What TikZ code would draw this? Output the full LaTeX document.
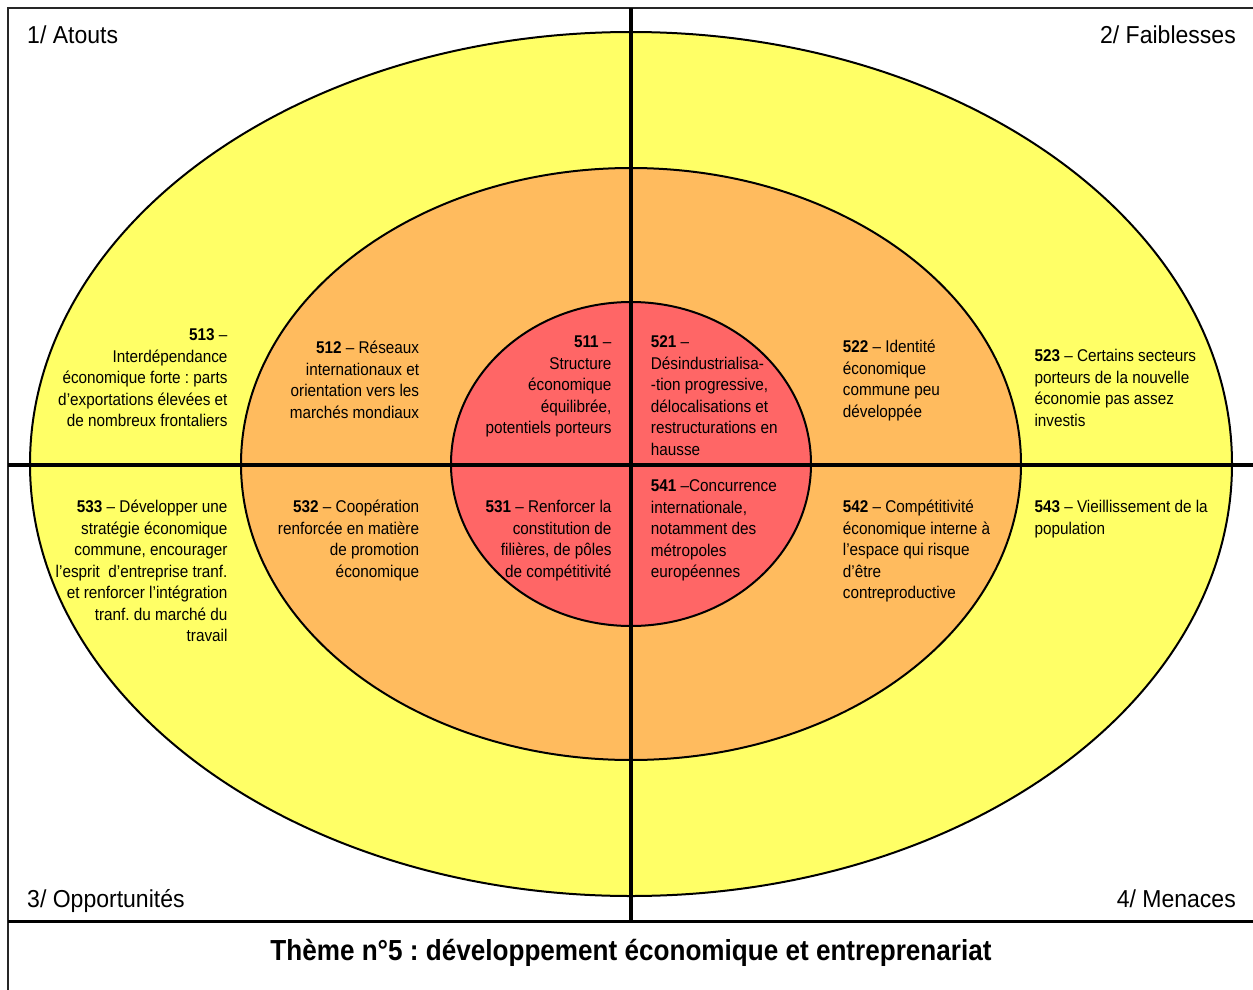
\documentclass[tikz,border=0pt]{standalone}
\usepackage{fontspec}
\setmainfont[FakeStretch=0.9]{Liberation Sans}
\newfontfamily\quadfont[FakeStretch=0.94]{Liberation Sans}
\frenchspacing
\definecolor{cyellow}{HTML}{FFFF66}
\definecolor{corange}{HTML}{FFBB5E}
\definecolor{cred}{HTML}{FF6666}
\tikzset{
  ring/.style={draw=black, line width=2pt},
  sep/.style={draw=black, line width=4pt},
  frame/.style={draw=black!85, line width=2pt},
  txt/.style={inner sep=0pt, font=\frenchspacing\fontsize{17}{21.5}\selectfont},
  txtR/.style={txt, align=right, anchor=north east},
  txtL/.style={txt, align=left, anchor=north west},
  quad/.style={inner sep=0pt, font=\quadfont\fontsize{24.5}{28}\selectfont},
  title/.style={inner sep=0pt, font=\frenchspacing\bfseries\fontsize{29}{34}\selectfont}
}
\begin{document}
\begin{tikzpicture}[x=1pt,y=-1pt]
\useasboundingbox (0,0) rectangle (1253,990);
% rings
\coordinate (C) at (631,464);
\path[ring, fill=cyellow] (C) ellipse [x radius=601pt, y radius=432pt];
\path[ring, fill=corange] (C) ellipse [x radius=390pt, y radius=296pt];
\path[ring, fill=cred] (C) ellipse [x radius=180pt, y radius=162pt];
% frame and axes
\coordinate (TL) at (8,8);
\coordinate (TR) at (1253,8);
\coordinate (BL) at (8,990);
\coordinate (ML) at (8,464.5);
\coordinate (MR) at (1253,464.5);
\coordinate (FL) at (8,921);
\coordinate (FR) at (1253,921);
\coordinate (VT) at (631,8);
\coordinate (VB) at (631,921);
\draw[frame] (TR) -- (TL) -- (BL);
\draw[black, line width=3pt] (FL) -- (FR);
\draw[sep] (ML) -- (MR);
\draw[sep] (VT) -- (VB);
% quadrant labels
\node[quad, anchor=base west] (q1) at (27,43.3) {1/ Atouts};
\node[quad, anchor=base east] (q2) at (1236,43.3) {2/ Faiblesses};
\node[quad, anchor=base west] (q3) at (27,907) {3/ Opportunités};
\node[quad, anchor=base east] (q4) at (1236,907) {4/ Menaces};
\node[title, anchor=base] (t) at (631,960) {Thème n°5 : développement économique et entreprenariat};
% upper left
\node[txtR] (n513) at (227.7,325.7) {\strut\textbf{513} –\\Interdépendance\\économique forte : parts\\d’exportations élevées et\\de nombreux frontaliers};
\node[txtR] (n512) at (419.3,338.3) {\strut\textbf{512} – Réseaux\\internationaux et\\orientation vers les\\marchés mondiaux};
\node[txtR] (n511) at (611.7,332.7) {\strut\textbf{511} –\\Structure\\économique\\équilibrée,\\potentiels porteurs};
% upper right
\node[txtL] (n521) at (650.7,332.7) {\strut\textbf{521} –\\Désindustrialisa-\\-tion progressive,\\délocalisations et\\restructurations en\\hausse};
\node[txtL] (n522) at (842.7,337.7) {\strut\textbf{522} – Identité\\économique\\commune peu\\développée};
\node[txtL] (n523) at (1034.3,346.7) {\strut\textbf{523} – Certains secteurs\\porteurs de la nouvelle\\économie pas assez\\investis};
% lower left
\node[txtR] (n533) at (227.7,497.7) {\strut\textbf{533} – Développer une\\stratégie économique\\commune, encourager\\l’esprit\ \ d’entreprise tranf.\\et renforcer l’intégration\\tranf. du marché du\\travail};
\node[txtR] (n532) at (419.3,497.7) {\strut\textbf{532} – Coopération\\renforcée en matière\\de promotion\\économique};
\node[txtR] (n531) at (611.7,497.7) {\strut\textbf{531} – Renforcer la\\constitution de\\filières, de pôles\\de compétitivité};
% lower right
\node[txtL] (n541) at (650.7,476.7) {\strut\textbf{541} –Concurrence\\internationale,\\notamment des\\métropoles\\européennes};
\node[txtL] (n542) at (842.7,497.7) {\strut\textbf{542} – Compétitivité\\économique interne à\\l’espace qui risque\\d’être\\contreproductive};
\node[txtL] (n543) at (1034.3,497.7) {\strut\textbf{543} – Vieillissement de la\\population};
\end{tikzpicture}
\end{document}
